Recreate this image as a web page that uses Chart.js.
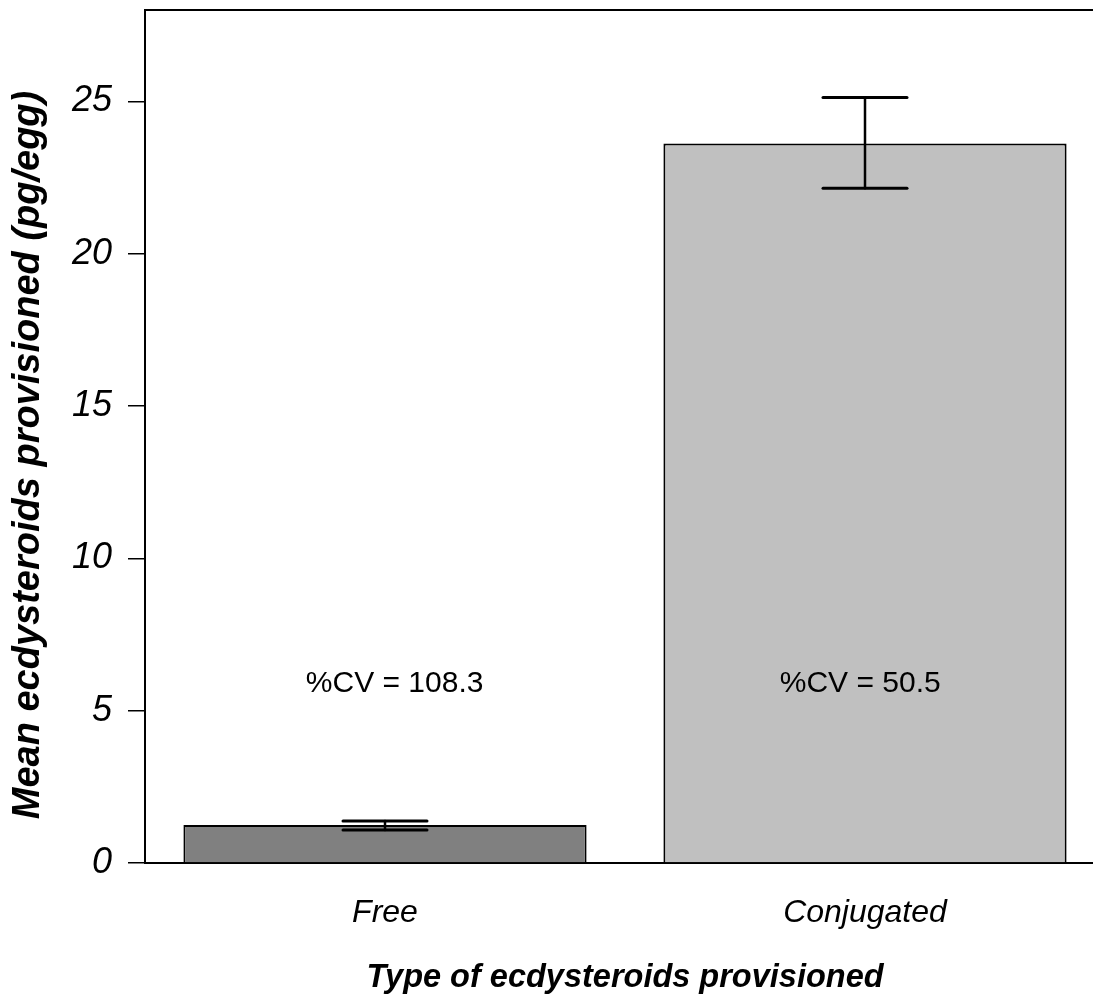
<!DOCTYPE html>
<html><head><meta charset="utf-8">
<script src="https://cdn.jsdelivr.net/npm/chart.js@4"></script>
<style>html,body{margin:0;padding:0;background:#fff;overflow:hidden;width:1093px;height:994px}#wrap{position:relative;width:1105px;height:994px}</style>
</head><body><div id="wrap"><canvas id="c"></canvas></div>
<script>
const categories = ['Free', 'Conjugated'];
const means = [1.25, 23.62];
const errorUpper = [1.38, 25.13];
const errorLower = [1.08, 22.15];
const cvLabels = ['%CV = 108.3', '%CV = 50.5'];
const cvLabelX = [0.02, 0.99];
const cvLabelY = [5.9, 5.9];
const yTicks = [0, 5, 10, 15, 20, 25];
const barColors = ['#808080', '#c0c0c0'];
const yTitle = 'Mean ecdysteroids provisioned (pg/egg)';
const xTitle = 'Type of ecdysteroids provisioned';
const FONT = "'Liberation Sans', Arial, sans-serif";

const framePlugin = {
  id: 'frame',
  afterDraw(chart) {
    const {ctx, chartArea} = chart;
    ctx.save();
    ctx.strokeStyle = '#000';
    ctx.lineWidth = 2;
    ctx.beginPath();
    ctx.moveTo(chartArea.left - 1, chartArea.top);
    ctx.lineTo(chart.width, chartArea.top);
    ctx.stroke();
    // y axis title
    ctx.fillStyle = '#000';
    ctx.font = 'italic bold 38px ' + FONT;
    ctx.textAlign = 'center';
    ctx.textBaseline = 'middle';
    ctx.translate(29, 455);
    ctx.rotate(-Math.PI / 2);
    ctx.fillText(yTitle, 0, 0);
    ctx.restore();
  }
};

const errorPlugin = {
  id: 'errbars',
  afterDatasetsDraw(chart) {
    const {ctx, scales: {x, y}} = chart;
    ctx.save();
    ctx.strokeStyle = '#000';
    ctx.lineCap = 'round';
    means.forEach((m, i) => {
      const px = x.getPixelForValue(i);
      const yu = y.getPixelForValue(errorUpper[i]);
      const yl = y.getPixelForValue(errorLower[i]);
      ctx.lineWidth = 2.5;
      ctx.beginPath(); ctx.moveTo(px, yu); ctx.lineTo(px, yl); ctx.stroke();
      ctx.lineWidth = 3;
      ctx.beginPath(); ctx.moveTo(px - 42, yu); ctx.lineTo(px + 42, yu); ctx.stroke();
      ctx.beginPath(); ctx.moveTo(px - 42, yl); ctx.lineTo(px + 42, yl); ctx.stroke();
    });
    ctx.fillStyle = '#000';
    ctx.font = '30px ' + FONT;
    ctx.textAlign = 'center';
    ctx.textBaseline = 'middle';
    cvLabels.forEach((t, i) => {
      ctx.fillText(t, x.getPixelForValue(cvLabelX[i]), y.getPixelForValue(cvLabelY[i]));
    });
    ctx.restore();
  }
};

new Chart(document.getElementById('c'), {
  type: 'bar',
  data: {
    labels: categories,
    datasets: [{
      data: means,
      backgroundColor: barColors,
      borderColor: '#000',
      borderWidth: 2,
      categoryPercentage: 1,
      barPercentage: 0.84
    }]
  },
  options: {
    responsive: true,
    maintainAspectRatio: false,
    animation: false,
    layout: {padding: {top: 10, left: 0, right: 0, bottom: 0}},
    plugins: {legend: {display: false}, tooltip: {enabled: false}},
    scales: {
      x: {
        afterFit: s => { s.height = 131; s.paddingLeft = 0; s.paddingRight = 0; },
        ticks: {
          color: '#000',
          font: {family: FONT, size: 32, style: 'italic'},
          padding: 31,
          maxRotation: 0,
          autoSkip: false
        },
        grid: {drawOnChartArea: false, drawTicks: false, color: '#000', lineWidth: 2},
        border: {display: true, color: '#000', width: 2},
        title: {
          display: true,
          text: xTitle,
          color: '#000',
          font: {family: FONT, size: 32.5, style: 'italic', weight: 'bold', lineHeight: 1},
          padding: {top: 0, bottom: 0}
        }
      },
      y: {
        min: 0,
        max: 28,
        afterBuildTicks: s => { s.ticks = yTicks.map(v => ({value: v})); },
        afterFit: s => { s.width = 145; s.paddingTop = 0; s.paddingBottom = 0; },
        ticks: {
          color: '#000',
          font: {family: FONT, size: 36, style: 'italic'},
          padding: 16
        },
        grid: {drawOnChartArea: false, drawTicks: true, tickLength: 17, color: '#000', lineWidth: 1.5},
        border: {display: true, color: '#000', width: 2},
        title: {display: false}
      }
    }
  },
  plugins: [framePlugin, errorPlugin]
});
</script>
</body></html>
